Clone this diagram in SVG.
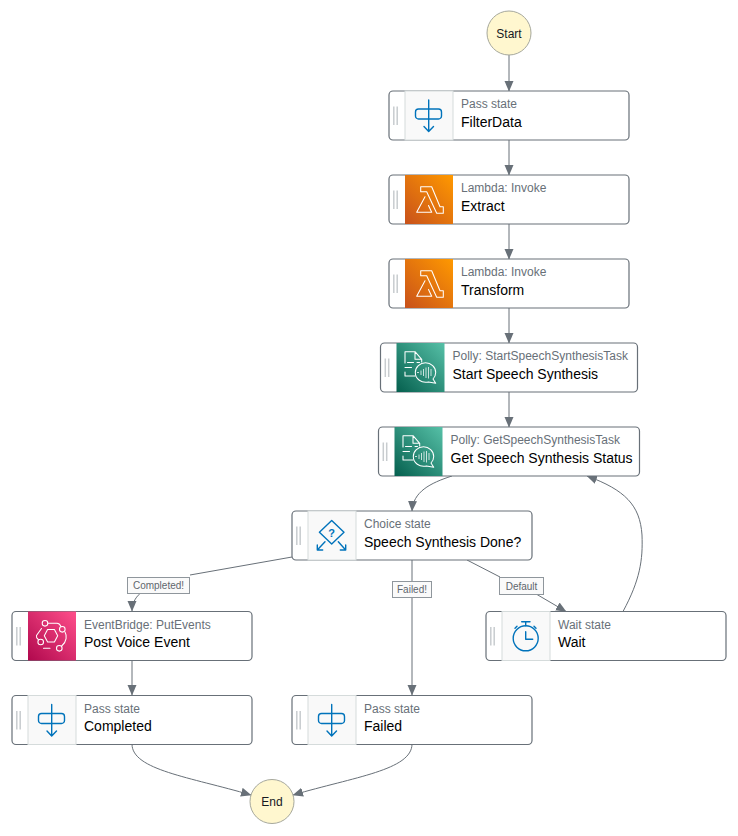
<svg xmlns="http://www.w3.org/2000/svg" width="738" height="836" viewBox="0 0 738 836">
<style>
text{font-family:"Liberation Sans",Arial,sans-serif}
.box{fill:#fff;stroke:#687078;stroke-width:1.2}
.well{fill:#f9f9f9;stroke:#d5dbdb;stroke-width:1}
.grip{stroke:#c8cccf;stroke-width:1.5;fill:none}
.sub{font-size:12px;fill:#687078}
.ttl{font-size:14px;fill:#000}
.term{fill:#fff7cf;stroke:#a6a89c;stroke-width:1}
.termt{font-size:12px;fill:#16191f;text-anchor:middle}
.edge{fill:none;stroke:#687078;stroke-width:1}
.lbl{fill:#fafafa;stroke:#8f969c;stroke-width:1}
.lblt{font-size:10px;fill:#5f666d;text-anchor:middle}
.blue{fill:none;stroke:#0073bb;stroke-width:1.4;stroke-linecap:round;stroke-linejoin:round}
.wht{fill:none;stroke:#fff;stroke-width:1.050;stroke-linejoin:round;stroke-linecap:round}
</style>
<defs>
<marker id="arr" markerWidth="11" markerHeight="10" refX="10" refY="4.500" orient="auto" markerUnits="userSpaceOnUse"><path d="M0,0L10.500,4.500L0,9Z" fill="#687078"/></marker>
<linearGradient id="gL" x1="0" y1="1" x2="1" y2="0"><stop offset="0" stop-color="#c8511b"/><stop offset="1" stop-color="#ff9900"/></linearGradient>
<linearGradient id="gP" x1="0" y1="1" x2="1" y2="0"><stop offset="0" stop-color="#055f4e"/><stop offset="1" stop-color="#56c0a7"/></linearGradient>
<linearGradient id="gE" x1="0" y1="1" x2="1" y2="0"><stop offset="0" stop-color="#b0084d"/><stop offset="1" stop-color="#ff4f8b"/></linearGradient>
<g id="grip"><path class="grip" d="M-11.200,15.500V34M-7.800,15.500V34"/></g>
<g id="ipass"><rect class="well" x="0" y="0" width="48" height="49"/><path class="blue" d="M23.700,9V28M23.700,18H13.500a3,3 0 0 0 -3,3V25a3,3 0 0 0 3,3H33.500a3,3 0 0 0 3,-3V21a3,3 0 0 0 -3,-3H23.700M23.700,28V40M19,35.500L23.700,40.500L28.500,35.500"/></g>
<g id="ilam"><rect width="48" height="49" fill="url(#gL)"/><path class="wht" d="M15.700,11.700H26.700L35,31.700H38.300V38.300H31.700L21.700,16.700H15.700ZM20,21.700L11.700,37.300H26.700L23.500,30.500"/></g>
<g id="ipol"><rect width="48" height="49" fill="url(#gP)"/><g class="wht"><path d="M8.500,8.700H18.500L25.200,16.300V19M18.500,8.700V16.300H25.200M8.500,8.700V20M11,19.500H17M20.500,19.500H23M8.500,24.500H15M8.500,29V33H18.500"/><path d="M18.800,29.500C18.800,24 23.500,19.700 29,19.700C34.500,19.700 39.200,24 39.200,29.500C39.200,32.500 38,34.500 36.500,36L39.200,40.300L32,38.900C25,40.500 18.800,36 18.800,29.500Z"/></g><path d="M20.500,29.500H22.500M24.500,27.500V32M27,26V33M29.500,24.500V35M32,24V35.500M34.500,26V33" fill="none" stroke="#fff" stroke-width="1" stroke-opacity=".75"/></g>
<g id="ichoice"><rect class="well" width="48" height="49"/><path class="blue" d="M23.700,9.500L36,21.300L23.700,33L11.400,21.300ZM17,30.700L9.300,39M9.300,34V39H14.700M30.300,30.700L37.700,39M37.700,34V39H32.300"/><text x="23.700" y="25.500" font-size="11" font-weight="700" fill="#0073bb" text-anchor="middle">?</text></g>
<g id="ieb"><rect width="48" height="49" fill="url(#gE)"/><g class="wht"><path d="M16.300,24.200L19.600,18L26.400,18L29.700,24.200L26.400,30.400L19.600,30.400Z"/><circle cx="17" cy="11.800" r="2.800"/><circle cx="34.300" cy="17.800" r="2.800"/><circle cx="12.700" cy="30.500" r="2.800"/><circle cx="31.300" cy="36.800" r="2.800"/><path d="M20.300,11.800H29C31,11.800 32,13 33,15M37,20.500C39,24 39,30 33.700,34.500M13.500,17L8.500,24C8,26 9,27 10.300,28M15.500,36.800H22"/></g></g>
<g id="iwait"><rect class="well" width="48" height="49"/><g class="blue"><circle cx="23.700" cy="26.800" r="12.500"/><path d="M23.700,20.200V27.800H30.700M19.700,10.200H28M23.700,10.200V14.300M13,16.800L15,14.800M34,16.800L32,14.800"/></g></g>
</defs>
<g id="connectors">
<path class="edge" marker-end="url(#arr)" d="M509,55V91"/>
<path class="edge" marker-end="url(#arr)" d="M509,140V175"/>
<path class="edge" marker-end="url(#arr)" d="M509,224V259"/>
<path class="edge" marker-end="url(#arr)" d="M509,308V343"/>
<path class="edge" marker-end="url(#arr)" d="M509,392V427"/>
<path class="edge" marker-end="url(#arr)" d="M452,476C430,483 413,492 412,511"/>
<path class="edge" marker-end="url(#arr)" d="M623,611.500C640,580 643,560 642,535C640,505 625,490 587,476"/>
<path class="edge" d="M292,557L190,575"/>
<path class="edge" marker-end="url(#arr)" d="M140,593.500C135,598 132,604 132,611"/>
<path class="edge" d="M412,560V581.500"/>
<path class="edge" marker-end="url(#arr)" d="M412,598V695"/>
<path class="edge" d="M467,560L500,577"/>
<path class="edge" marker-end="url(#arr)" d="M537,594.500L566,611.500"/>
<path class="edge" marker-end="url(#arr)" d="M132,660V695"/>
<path class="edge" marker-end="url(#arr)" d="M132,744C132,770 190,777 251,795"/>
<path class="edge" marker-end="url(#arr)" d="M412,744C412,770 354,777 293,795"/>
<g id="edge-labels">
<rect class="lbl" x="127.500" y="577.500" width="62" height="16"/><text class="lblt" x="158.500" y="589">Completed!</text>
<rect class="lbl" x="392.500" y="581.500" width="39" height="16"/><text class="lblt" x="412" y="593">Failed!</text>
<rect class="lbl" x="499.500" y="577.500" width="44" height="17"/><text class="lblt" x="521.500" y="590">Default</text>
</g>
</g>
<g id="start"><circle class="term" cx="509" cy="33" r="22"/><text class="termt" x="509" y="38">Start</text></g>
<g id="filterdata"><rect class="box" x="389" y="91" width="240" height="49" rx="4"/><use href="#grip" x="405" y="91"/><use href="#ipass" x="405" y="91"/><text class="sub" x="461" y="108">Pass state</text><text class="ttl" x="461" y="127">FilterData</text></g>
<g id="extract"><rect class="box" x="389" y="175" width="240" height="49" rx="4"/><use href="#grip" x="405" y="175"/><use href="#ilam" x="405" y="175"/><text class="sub" x="461" y="192">Lambda: Invoke</text><text class="ttl" x="461" y="211">Extract</text></g>
<g id="transform"><rect class="box" x="389" y="259" width="240" height="49" rx="4"/><use href="#grip" x="405" y="259"/><use href="#ilam" x="405" y="259"/><text class="sub" x="461" y="276">Lambda: Invoke</text><text class="ttl" x="461" y="295">Transform</text></g>
<g id="start-speech"><rect class="box" x="380.500" y="343" width="257" height="49" rx="4"/><use href="#grip" x="396.500" y="343"/><use href="#ipol" x="396.500" y="343"/><text class="sub" x="452.500" y="360">Polly: StartSpeechSynthesisTask</text><text class="ttl" x="452.500" y="379">Start Speech Synthesis</text></g>
<g id="get-speech"><rect class="box" x="378.500" y="427" width="261" height="49" rx="4"/><use href="#grip" x="394.500" y="427"/><use href="#ipol" x="394.500" y="427"/><text class="sub" x="450.500" y="444">Polly: GetSpeechSynthesisTask</text><text class="ttl" x="450.500" y="463">Get Speech Synthesis Status</text></g>
<g id="choice"><rect class="box" x="292" y="511" width="240" height="49" rx="4"/><use href="#grip" x="308" y="511"/><use href="#ichoice" x="308" y="511"/><text class="sub" x="364" y="528">Choice state</text><text class="ttl" x="364" y="547">Speech Synthesis Done?</text></g>
<g id="post-voice"><rect class="box" x="12" y="611.500" width="240" height="49" rx="4"/><use href="#grip" x="28" y="611.500"/><use href="#ieb" x="28" y="611.500"/><text class="sub" x="84" y="628.500">EventBridge: PutEvents</text><text class="ttl" x="84" y="647">Post Voice Event</text></g>
<g id="wait"><rect class="box" x="486" y="611.500" width="240" height="49" rx="4"/><use href="#grip" x="502" y="611.500"/><use href="#iwait" x="502" y="611.500"/><text class="sub" x="558" y="628.500">Wait state</text><text class="ttl" x="558" y="647">Wait</text></g>
<g id="completed"><rect class="box" x="12" y="695.500" width="240" height="49" rx="4"/><use href="#grip" x="28" y="695.500"/><use href="#ipass" x="28" y="695.500"/><text class="sub" x="84" y="712.500">Pass state</text><text class="ttl" x="84" y="731">Completed</text></g>
<g id="failed"><rect class="box" x="292" y="695.500" width="240" height="49" rx="4"/><use href="#grip" x="308" y="695.500"/><use href="#ipass" x="308" y="695.500"/><text class="sub" x="364" y="712.500">Pass state</text><text class="ttl" x="364" y="731">Failed</text></g>
<g id="end"><circle class="term" cx="272" cy="801.500" r="22"/><text class="termt" x="272" y="806">End</text></g>
</svg>
